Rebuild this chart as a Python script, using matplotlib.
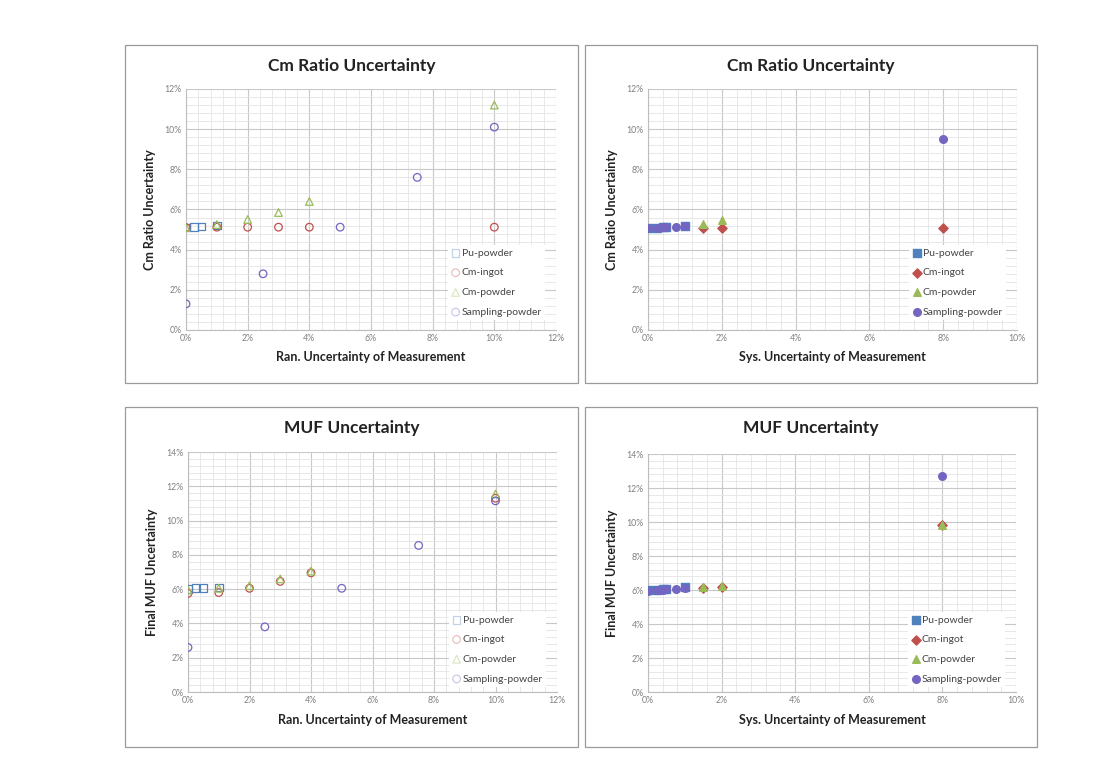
import matplotlib.pyplot as plt
from matplotlib.patches import Rectangle
from matplotlib.ticker import MultipleLocator, PercentFormatter

plt.rcParams["font.family"] = ["Lato", "DejaVu Sans"]

SERIES = ["Pu-powder", "Cm-ingot", "Cm-powder", "Sampling-powder"]
COLORS = {
    "Pu-powder": "#4F81BD",
    "Cm-ingot": "#C0504D",
    "Cm-powder": "#9BBB59",
    "Sampling-powder": "#7366C2",
}
HOLLOW_MARKERS = {"Pu-powder": "s", "Cm-ingot": "o", "Cm-powder": "^", "Sampling-powder": "o"}
FILLED_MARKERS = {"Pu-powder": "s", "Cm-ingot": "D", "Cm-powder": "^", "Sampling-powder": "o"}

# --- random uncertainty, Cm ratio (values in %) ---
ran_pu_x = [0, 0.25, 0.5, 1]
ran_pu_ratio = [5.1, 5.12, 5.15, 5.2]
ran_ingot_x = [0, 1, 2, 3, 4, 10]
ran_ingot_ratio = [5.1, 5.12, 5.12, 5.12, 5.12, 5.12]
ran_powder_x = [0, 1, 2, 3, 4, 10]
ran_powder_ratio = [5.1, 5.25, 5.5, 5.85, 6.4, 11.2]
ran_samp_x = [0, 2.5, 5, 7.5, 10]
ran_samp_ratio = [1.3, 2.8, 5.12, 7.6, 10.1]

# --- random uncertainty, final MUF (values in %) ---
ran_pu_muf = [6.0, 6.05, 6.05, 6.1]
ran_ingot_muf = [5.75, 5.8, 6.05, 6.45, 6.95, 11.3]
ran_powder_muf = [5.95, 6.05, 6.2, 6.6, 7.05, 11.55]
ran_samp_muf = [2.6, 3.8, 6.05, 8.55, 11.15]

# --- systematic uncertainty, Cm ratio (values in %) ---
sys_pu_x = [0, 0.25, 0.4, 0.5, 1]
sys_pu_ratio = [5.1, 5.1, 5.12, 5.12, 5.2]
sys_ingot_x = [1.5, 2, 8]
sys_ingot_ratio = [5.1, 5.1, 5.1]
sys_powder_x = [1.5, 2]
sys_powder_ratio = [5.3, 5.5]
sys_samp_x = [0, 0.25, 0.4, 0.5, 0.75, 1, 8]
sys_samp_ratio = [5.1, 5.1, 5.12, 5.12, 5.15, 5.18, 9.5]

# --- systematic uncertainty, final MUF (values in %) ---
sys_pu_muf = [6.0, 6.02, 6.05, 6.05, 6.15]
sys_ingot_muf = [6.1, 6.2, 9.8]
sys_powder_x_muf = [1.5, 2, 8]
sys_powder_muf = [6.15, 6.25, 9.85]
sys_samp_muf = [5.95, 6.0, 6.02, 6.05, 6.05, 6.1, 12.7]

W, H = 1119, 761
fig = plt.figure(figsize=(W / 100, H / 100), dpi=100)


def add_panel_box(x0, y0, x1, y1, title):
    fig.patches.append(Rectangle((x0 / W, 1 - y1 / H), (x1 - x0) / W, (y1 - y0) / H,
                                 transform=fig.transFigure, fill=False,
                                 edgecolor="#9a9a9a", linewidth=0.9))
    # Excel centres the chart title on the whole chart area
    fig.text((x0 + x1) / 2 / W, 1 - (y0 + 21) / H, title, ha="center", va="center",
             fontsize=12.5, fontweight="bold", color="#222222")


def make_axes(x0, y0, x1, y1):
    return fig.add_axes([x0 / W, 1 - y1 / H, (x1 - x0) / W, (y1 - y0) / H])


def style_axes(ax, xlabel, ylabel, xmax, ymax, legend_y, faint_legend):
    ax.set_xlim(0, xmax)
    ax.set_ylim(0, ymax)
    ax.xaxis.set_major_locator(MultipleLocator(2))
    ax.yaxis.set_major_locator(MultipleLocator(2))
    ax.xaxis.set_minor_locator(MultipleLocator(0.4))
    ax.yaxis.set_minor_locator(MultipleLocator(0.4))
    ax.xaxis.set_major_formatter(PercentFormatter(decimals=0))
    ax.yaxis.set_major_formatter(PercentFormatter(decimals=0))
    ax.grid(which="major", color="#c8c8c8", linewidth=0.8)
    ax.grid(which="minor", color="#e4e4e4", linewidth=0.6)
    ax.set_axisbelow(True)
    for side in ["top", "right"]:
        ax.spines[side].set_visible(False)
    for side in ["left", "bottom"]:
        ax.spines[side].set_color("#bdbdbd")
    ax.tick_params(which="both", length=0, labelsize=6.3, labelcolor="#808080", pad=3)
    ax.set_xlabel(xlabel, fontsize=9, fontweight="bold", color="#222222", labelpad=6)
    ax.set_ylabel(ylabel, fontsize=9, fontweight="bold", color="#222222", labelpad=6)
    leg = ax.legend(loc="lower right", bbox_to_anchor=(0.985, legend_y), frameon=True,
                    fontsize=7.5, handletextpad=0.2, handlelength=0.8,
                    borderpad=0.3, labelspacing=1.0, fancybox=False)
    leg.get_frame().set_edgecolor("none")
    leg.get_frame().set_facecolor("white")
    leg.get_frame().set_alpha(1)
    for txt in leg.get_texts():
        txt.set_color("#444444")
    if faint_legend:
        for handle in leg.legend_handles:
            handle.set_alpha(0.35)


def plot_hollow(ax, data):
    for name, xs, ys in data:
        ax.scatter(xs, ys, marker=HOLLOW_MARKERS[name], s=30, facecolors="none",
                   edgecolors=COLORS[name], linewidths=0.9, label=name, zorder=3)


def plot_filled(ax, data):
    for name, xs, ys in data:
        size = 22 if FILLED_MARKERS[name] == "D" else 30
        ax.scatter(xs, ys, marker=FILLED_MARKERS[name], s=size, color=COLORS[name],
                   label=name, zorder=3)


add_panel_box(125, 45, 578, 383, "Cm Ratio Uncertainty")
add_panel_box(585, 45, 1037, 383, "Cm Ratio Uncertainty")
add_panel_box(125, 407, 578, 747, "MUF Uncertainty")
add_panel_box(585, 407, 1037, 747, "MUF Uncertainty")

ax1 = make_axes(186, 89, 556, 330)
plot_hollow(ax1, [
    ("Pu-powder", ran_pu_x, ran_pu_ratio),
    ("Cm-ingot", ran_ingot_x, ran_ingot_ratio),
    ("Cm-powder", ran_powder_x, ran_powder_ratio),
    ("Sampling-powder", ran_samp_x, ran_samp_ratio),
])
style_axes(ax1, "Ran. Uncertainty of Measurement", "Cm Ratio Uncertainty", 12, 12,
           0.02, True)

ax2 = make_axes(648, 89, 1017, 330)
plot_filled(ax2, [
    ("Pu-powder", sys_pu_x, sys_pu_ratio),
    ("Cm-ingot", sys_ingot_x, sys_ingot_ratio),
    ("Cm-powder", sys_powder_x, sys_powder_ratio),
    ("Sampling-powder", sys_samp_x, sys_samp_ratio),
])
style_axes(ax2, "Sys. Uncertainty of Measurement", "Cm Ratio Uncertainty", 10, 12,
           0.02, False)

ax3 = make_axes(188, 452, 557, 692)
plot_hollow(ax3, [
    ("Pu-powder", ran_pu_x, ran_pu_muf),
    ("Cm-ingot", ran_ingot_x, ran_ingot_muf),
    ("Cm-powder", ran_powder_x, ran_powder_muf),
    ("Sampling-powder", ran_samp_x, ran_samp_muf),
])
style_axes(ax3, "Ran. Uncertainty of Measurement", "Final MUF Uncertainty", 12, 14,
           0.0, True)

ax4 = make_axes(648, 454, 1016, 692)
plot_filled(ax4, [
    ("Pu-powder", sys_pu_x, sys_pu_muf),
    ("Cm-ingot", sys_ingot_x, sys_ingot_muf),
    ("Cm-powder", sys_powder_x_muf, sys_powder_muf),
    ("Sampling-powder", sys_samp_x, sys_samp_muf),
])
style_axes(ax4, "Sys. Uncertainty of Measurement", "Final MUF Uncertainty", 10, 14,
           0.0, False)

fig.savefig("out.png", dpi=100, facecolor="white")
